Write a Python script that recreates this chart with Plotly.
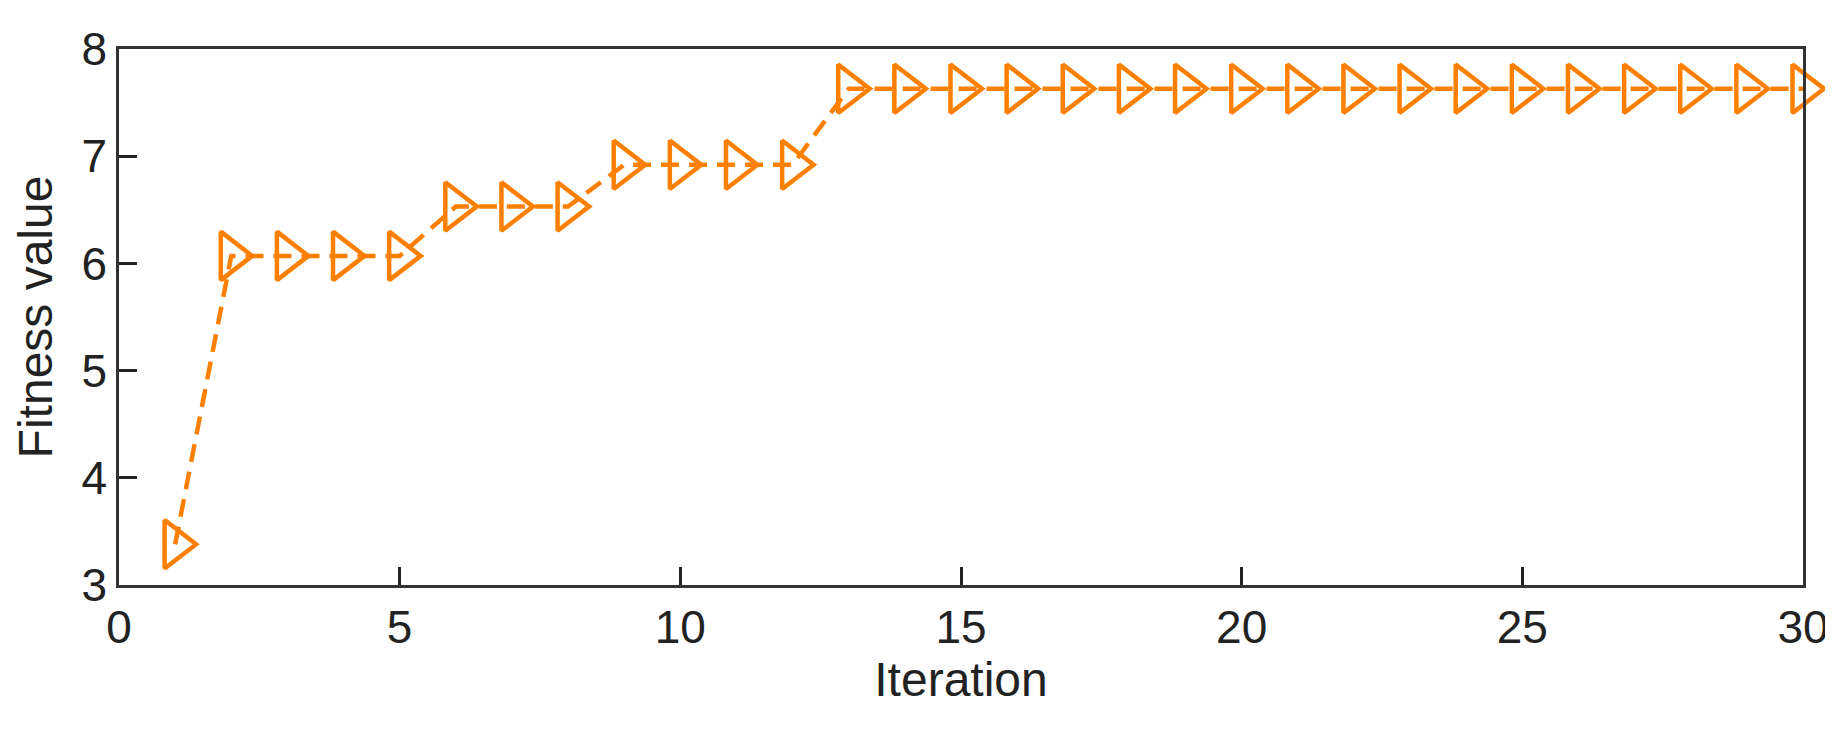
import plotly.graph_objects as go

iteration = list(range(1, 31))
fitness = [3.38, 6.07, 6.07, 6.07, 6.07, 6.53, 6.53, 6.53, 6.92, 6.92, 6.92, 6.92] + [7.63] * 18

fig = go.Figure(go.Scatter(
    x=iteration, y=fitness, mode="lines+markers",
    line=dict(color="#FF8000", width=4.5, dash="18px,10px"),
    marker=dict(symbol="triangle-right-open", size=42, color="#FF8000", line=dict(width=4.5)),
    cliponaxis=False,
))

axis = dict(showline=True, mirror=True, linecolor="#333", linewidth=2.5, ticks="inside",
            ticklen=18, tickwidth=2.5, tickcolor="#222", showgrid=False, zeroline=False,
            tickfont=dict(size=46, color="#222"))
fig.update_xaxes(range=[0, 30], dtick=5, title=dict(text="Iteration", font=dict(size=48, color="#222"), standoff=10), **axis)
fig.update_yaxes(range=[3, 8], dtick=1, title=dict(text="Fitness value", font=dict(size=48, color="#222"), standoff=14), **axis)
fig.update_layout(width=1833, height=738, plot_bgcolor="white", paper_bgcolor="white",
                  font=dict(family="Liberation Sans, Arial"), showlegend=False,
                  margin=dict(l=111, r=38, t=41, b=161))
fig.write_html("out.html")
